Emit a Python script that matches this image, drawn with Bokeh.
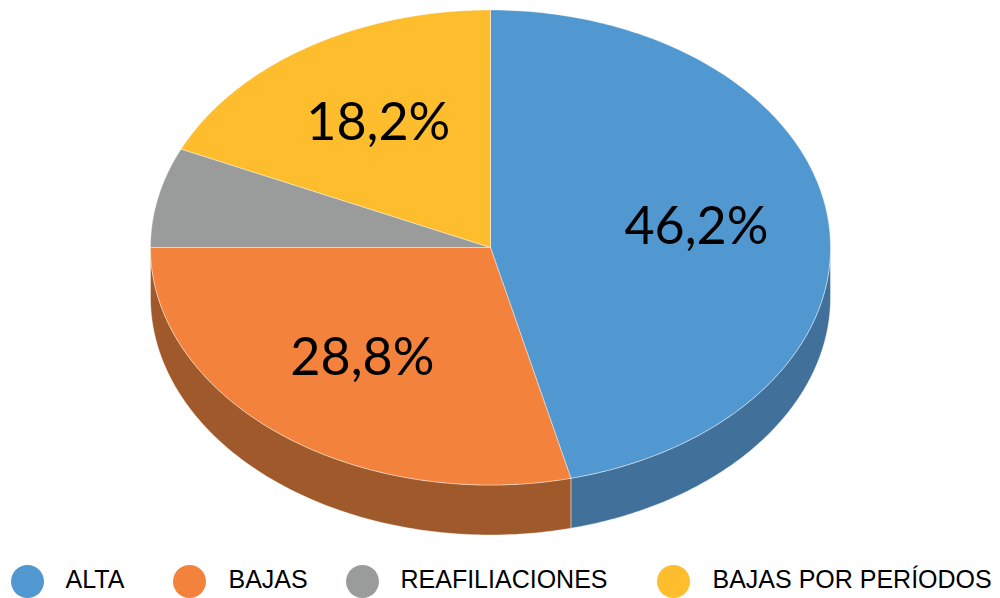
import numpy as np
from bokeh.plotting import figure
from bokeh.models import Range1d
from bokeh.core.properties import value
from bokeh.embed import file_html
from bokeh.resources import INLINE

categories = ["ALTA", "BAJAS", "REAFILIACIONES", "BAJAS POR PERÍODOS"]
shares = [46.2, 28.8, 6.8, 18.2]
labels = ["46,2%", "28,8%", "", "18,2%"]
top_colors = ["#5198D1", "#F2823C", "#9A9C9C", "#FDBD2C"]
side_colors = ["#41719A", "#A0592A", "#6F7171", "#B88A20"]

# layout (pixels)
CX, CY, RX, RY, DEPTH = 490, 247, 340, 237.5, 50
LABEL_R = 0.61
legend_marker_x = [27, 189, 362, 673]
legend_text_x = [65, 228, 400, 712]
legend_y = 581
legend_text_y = 578


def pt(t, dy=0.0):
    r = np.radians(t)
    return CX + RX * np.sin(r), CY - RY * np.cos(r) + dy


p = figure(width=1000, height=598, output_backend="svg", toolbar_location=None,
           x_range=Range1d(0, 1000), y_range=Range1d(598, 0),
           min_border=0, outline_line_color=None,
           x_axis_location=None, y_axis_location=None)
p.grid.visible = False
p.background_fill_color = "white"
p.border_fill_color = "white"

total = sum(shares)
bounds = np.cumsum([0] + shares) / total * 360.0

# side walls
sx, sy, sc = [], [], []
for i in range(len(shares)):
    lo, hi = max(bounds[i], 90.0), min(bounds[i + 1], 270.0)
    if hi <= lo:
        continue
    ts = np.linspace(lo, hi, 120)
    xt, yt = pt(ts)
    xb, yb = pt(ts[::-1], DEPTH)
    sx.append(list(np.concatenate([xt, xb])))
    sy.append(list(np.concatenate([yt, yb])))
    sc.append(side_colors[i])
p.patches(sx, sy, fill_color=sc, line_color="white", line_alpha=0.5, line_width=0.8)

# tops
tx, ty = [], []
for i in range(len(shares)):
    ts = np.linspace(bounds[i], bounds[i + 1], 200)
    xa, ya = pt(ts)
    tx.append([CX] + list(xa))
    ty.append([CY] + list(ya))
p.patches(tx, ty, fill_color=top_colors, line_color="white", line_alpha=0.5, line_width=0.8)

# percentage labels
mids = (bounds[:-1] + bounds[1:]) / 2
lx, ly, lt = [], [], []
for i, m in enumerate(mids):
    if labels[i]:
        r = np.radians(m)
        lx.append(CX + LABEL_R * RX * np.sin(r))
        ly.append(CY - LABEL_R * RY * np.cos(r))
        lt.append(labels[i])
p.text(lx, ly, text=lt, text_font=value("Lato"), text_font_size="52px",
       text_align="center", text_baseline="middle", text_color="black",
       y_offset=-6)

# legend
p.scatter(legend_marker_x, [legend_y] * 4, size=33, marker="circle",
          fill_color=top_colors, line_color=None)
p.text(legend_text_x, [legend_text_y] * 4, text=categories,
       text_font=value("Liberation Sans"), text_font_size="25px",
       text_align="left", text_baseline="middle", text_color="black")

open("out.html", "w").write(file_html(p, INLINE))
